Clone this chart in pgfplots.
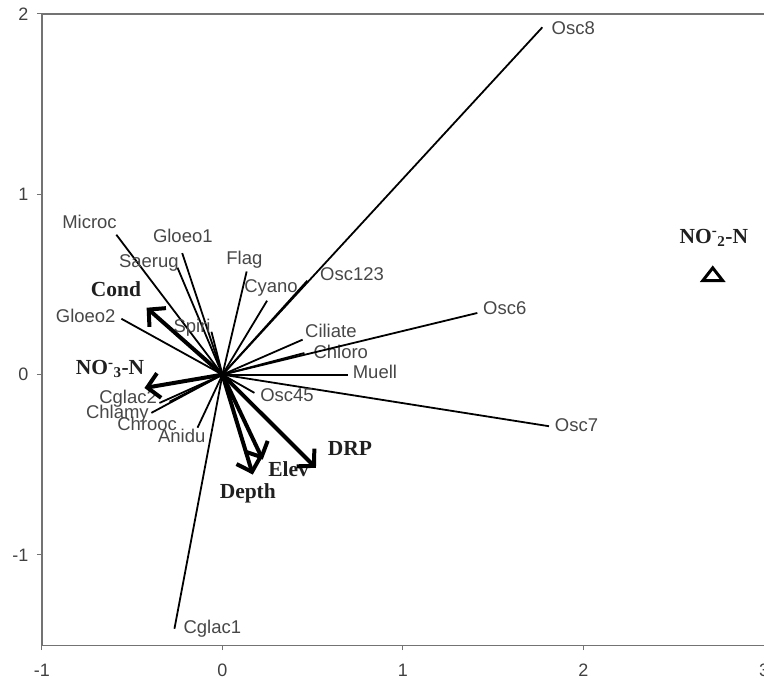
\documentclass[border=0pt]{standalone}
\usepackage{pgfplots}
\pgfplotsset{compat=1.18}
\usepackage{fontspec}
\setmainfont{Liberation Sans}
\newfontfamily\serifb{Liberation Serif}
\usetikzlibrary{arrows.meta}
\begin{document}
\begin{tikzpicture}[
  sp/.style={black, line width=1.8pt},
  env/.style={black, line width=4pt, -{Straight Barb[length=12pt,width=25pt,line width=4pt]}},
  splab/.style={font=\fontsize{18.5}{21}\selectfont, text=black!72, inner sep=0pt},
  envlab/.style={font=\fontsize{21.5}{25}\selectfont\serifb\bfseries, text=black!88, inner sep=0pt}]
\begin{axis}[
  scale only axis, width=723pt, height=632pt,
  xmin=-1, xmax=3, ymin=-1.5, ymax=2,
  axis x line=box, axis y line=left,
  axis line style={-, draw=black!55, line width=1.3pt},
  xtick={-1,0,1,2,3}, ytick={-1,0,1,2},
  xtick pos=bottom, ytick pos=left,
  tick align=outside, major tick length=5pt,
  tick style={draw=black!55, line width=1pt},
  tick label style={font=\fontsize{18}{20}\selectfont, text=black!75},
  xticklabel style={yshift=-10pt},
  yticklabel style={xshift=-5pt},
  /pgf/number format/assume math mode=true,
  clip=false,
]
% species vectors
\addplot[sp] coordinates {(0,0) (1.772,1.926)} node[pos=1, splab, anchor=mid west, xshift=8.5pt, yshift=-5pt] {Osc8};
\addplot[sp] coordinates {(0,0) (-0.588,0.776)} node[pos=1, splab, anchor=mid east, xshift=1.3pt, yshift=8.5pt] {Microc};
\addplot[sp] coordinates {(0,0) (-0.223,0.674)} node[pos=1, splab, anchor=mid, xshift=0.6pt, yshift=13.3pt] {Gloeo1};
\addplot[sp] coordinates {(0,0) (-0.249,0.593)} node[pos=1, splab, anchor=mid east, xshift=2pt, yshift=3pt] {Saerug};
\addplot[sp] coordinates {(0,0) (-0.061,0.238)} node[pos=1, splab, anchor=mid east, xshift=0pt, yshift=2pt] {Spiri};
\addplot[sp] coordinates {(0,0) (-0.560,0.310)} node[pos=1, splab, anchor=mid east, xshift=-5pt, yshift=-1pt] {Gloeo2};
\addplot[sp] coordinates {(0,0) (0.134,0.572)} node[pos=1, splab, anchor=mid, xshift=-2.3pt, yshift=10pt] {Flag};
\addplot[sp] coordinates {(0,0) (0.247,0.410)} node[pos=1, splab, anchor=mid, xshift=4pt, yshift=11pt] {Cyano};
\addplot[sp] coordinates {(0,0) (0.470,0.521)} node[pos=1, splab, anchor=mid west, xshift=12pt, yshift=3pt] {Osc123};
\addplot[sp] coordinates {(0,0) (0.444,0.194)} node[pos=1, splab, anchor=mid west, xshift=1.7pt, yshift=5pt] {Ciliate};
\addplot[sp] coordinates {(0,0) (0.454,0.120)} node[pos=1, splab, anchor=mid west, xshift=8.3pt, yshift=-3.3pt] {Chloro};
\addplot[sp] coordinates {(0,0) (1.412,0.342)} node[pos=1, splab, anchor=mid west, xshift=5pt, yshift=1.6pt] {Osc6};
\addplot[sp] coordinates {(0,0) (0.693,0)} node[pos=1, splab, anchor=mid west, xshift=4.4pt, yshift=-1.7pt] {Muell};
\addplot[sp] coordinates {(0,0) (1.809,-0.286)} node[pos=1, splab, anchor=mid west, xshift=5pt, yshift=-3pt] {Osc7};
\addplot[sp] coordinates {(0,0) (0.177,-0.101)} node[pos=1, splab, anchor=mid west, xshift=5pt, yshift=-5.7pt] {Osc45};
\addplot[sp] coordinates {(0,0) (-0.138,-0.294)} node[pos=1, splab, anchor=mid east, xshift=8.7pt, yshift=-12pt] {Anidu};
\addplot[sp] coordinates {(0,0) (-0.293,-0.150)} node[pos=1, splab, anchor=mid east, xshift=8.3pt, yshift=-26pt] {Chrooc};
\addplot[sp] coordinates {(0,0) (-0.394,-0.212)} node[pos=1, splab, anchor=mid east, xshift=-1.7pt, yshift=-3pt] {Chlamy};
\addplot[sp] coordinates {(0,0) (-0.349,-0.157)} node[pos=1, splab, anchor=mid east, xshift=-1.7pt, yshift=1.8pt] {Cglac2};
\addplot[sp] coordinates {(0,0) (-0.266,-1.409)} node[pos=1, splab, anchor=mid west, xshift=8.3pt, yshift=-1.7pt] {Cglac1};
% environmental vectors
\addplot[env] coordinates {(0,0) (-0.420,0.371)} node[pos=1, envlab, anchor=mid east, xshift=-3.7pt, yshift=14pt] {Cond};
\addplot[env] coordinates {(0,0) (-0.432,-0.074)} node[pos=1, envlab, anchor=mid east, xshift=1.7pt, yshift=15.8pt] {NO\textsuperscript{-}\textsubscript{3}-N};
\addplot[env] coordinates {(0,0) (0.168,-0.554)} node[pos=1, envlab, anchor=mid, xshift=-5pt, yshift=-21pt] {Depth};
\addplot[env] coordinates {(0,0) (0.223,-0.471)} node[pos=1, envlab, anchor=mid, xshift=26pt, yshift=-14pt] {Elev};
\addplot[env] coordinates {(0,0) (0.518,-0.517)} node[pos=1, envlab, anchor=mid west, xshift=10pt, yshift=15pt] {DRP};
% NO2-N centroid
\addplot[only marks, mark=triangle, mark size=8.5pt, mark options={xscale=1.35, line width=3pt, draw=black}] coordinates {(2.716,0.545)};
\node[envlab, anchor=mid] at (axis cs:2.722,0.743) {NO\textsuperscript{-}\textsubscript{2}-N};
\end{axis}
\pgfresetboundingbox
\path[use as bounding box] ([shift={(-42pt,-35pt)}]current axis.south west) rectangle ([shift={(0pt,14pt)}]current axis.north east);
\end{tikzpicture}
\end{document}
